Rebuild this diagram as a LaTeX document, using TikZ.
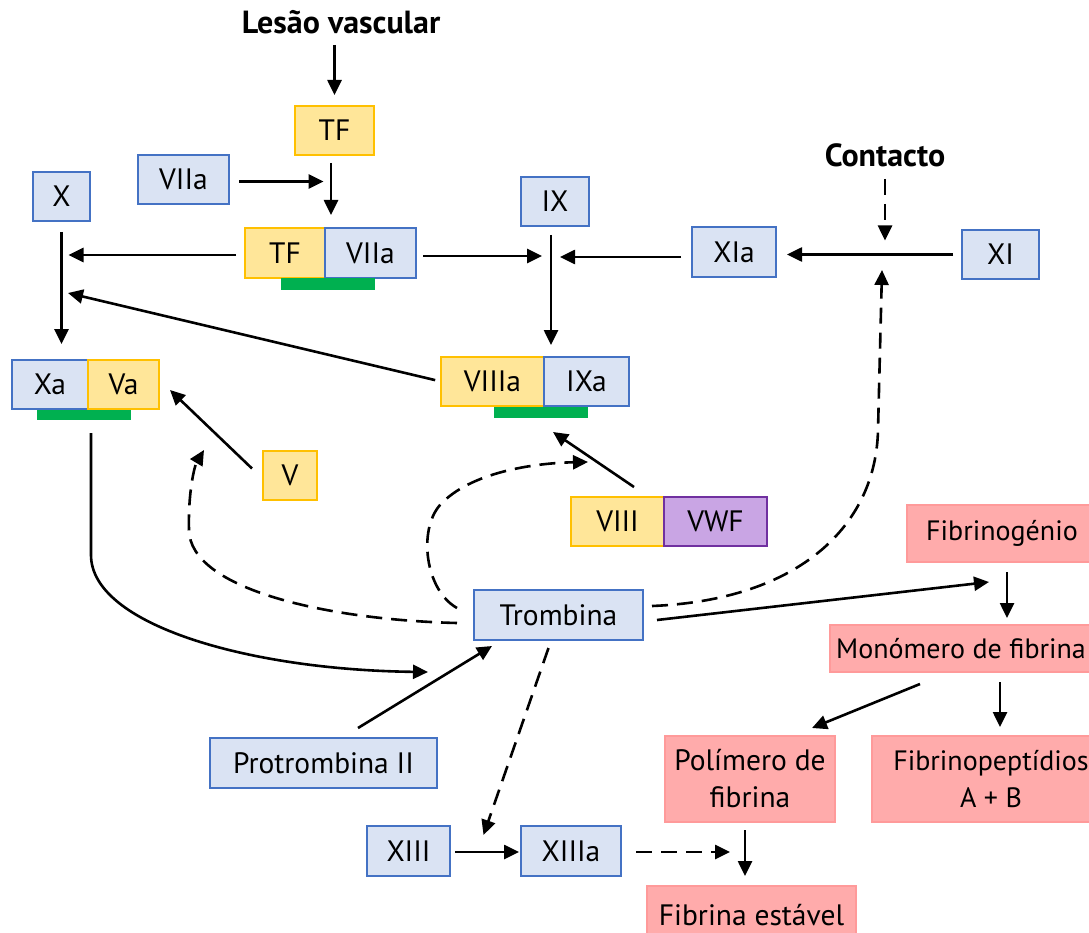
\documentclass[tikz,border=0pt]{standalone}
\usepackage{fontspec}
\setmainfont{PT Sans}
\usetikzlibrary{arrows.meta}
\definecolor{bfill}{HTML}{DAE3F3}
\definecolor{bdraw}{HTML}{4472C4}
\definecolor{yfill}{HTML}{FFE699}
\definecolor{ydraw}{HTML}{FFC000}
\definecolor{pfill}{HTML}{C9A5E4}
\definecolor{pdraw}{HTML}{7030A0}
\definecolor{rfill}{HTML}{FFABAB}
\definecolor{rdraw}{HTML}{FF9A9A}
\definecolor{gbar}{HTML}{00B050}
\begin{document}
\begin{tikzpicture}[x=1pt,y=-1pt,
  font=\fontsize{29.5}{37}\selectfont,
  bx/.style={draw, line width=1.5pt, inner sep=0pt, outer sep=0pt, align=center},
  bluebox/.style={bx, fill=bfill, draw=bdraw},
  yelbox/.style={bx, fill=yfill, draw=ydraw},
  purbox/.style={bx, fill=pfill, draw=pdraw},
  redbox/.style={bx, fill=rfill, draw=rdraw},
  narrow/.style={font=\fontsize{28}{37}\selectfont},
  ttl/.style={font=\fontsize{32}{36}\selectfont\bfseries, inner sep=0pt},
  arr/.style={line width=2.6pt, -{Triangle[length=15pt,width=14pt]}},
  dsh/.style={arr, dash pattern=on 16pt off 9pt}
]
\useasboundingbox (0,0) rectangle (1089,933);
\clip (0,0) rectangle (1089,933);

% titles
\node[ttl] (lesao) at (341,22) {Lesão vascular};
\node[ttl] (contacto) at (885,155) {Contacto};

% boxes
\node[yelbox, minimum width=79pt, minimum height=49pt] (tf) at (334.5,130.5) {TF};
\node[bluebox, minimum width=91pt, minimum height=49pt] (viia1) at (183.5,179.5) {VIIa};
\node[yelbox, minimum width=80pt, minimum height=50pt] (ctf) at (285,253) {TF};
\node[bluebox, minimum width=91pt, minimum height=50pt] (cviia) at (370.5,253) {VIIa};
\node[bluebox, minimum width=57pt, minimum height=49pt] (x) at (61.5,196.5) {X};
\node[bluebox, minimum width=68pt, minimum height=49pt] (ix) at (555,201.5) {IX};
\node[bluebox, minimum width=84pt, minimum height=50pt] (xia) at (734,252) {XIa};
\node[bluebox, minimum width=77pt, minimum height=49pt] (xi) at (1000.5,254.5) {XI};
\node[bluebox, minimum width=76pt, minimum height=49pt] (xa) at (50,384.5) {Xa};
\node[yelbox, minimum width=71pt, minimum height=49pt] (va) at (123.5,384.5) {Va};
\node[yelbox, minimum width=103pt, minimum height=49pt] (viiia) at (492.5,381.5) {VIIIa};
\node[bluebox, minimum width=85pt, minimum height=49pt] (ixa) at (586.5,381.5) {IXa};
\node[yelbox, minimum width=54pt, minimum height=49pt] (v) at (290,475.5) {V};
\node[yelbox, minimum width=93pt, minimum height=49pt] (viii) at (617.5,521.5) {VIII};
\node[purbox, minimum width=103pt, minimum height=49pt] (vwf) at (715.5,521.5) {VWF};
\node[bluebox, minimum width=169pt, minimum height=50pt] (trombina) at (558.5,615) {Trombina};
\node[bluebox, minimum width=227pt, minimum height=50pt] (protrombina) at (323.5,763) {Protrombina II};
\node[redbox, narrow, minimum width=190pt, minimum height=57pt] (fibrinogenio) at (1002,533.5) {Fibrinogénio};
\node[redbox, narrow, minimum width=262pt, minimum height=47pt] (monomero) at (961,648.5) {Monómero de fibrina};
\node[redbox, minimum width=170pt, minimum height=86pt] (polimero) at (750,779) {Polímero de\\fibrina};
\node[redbox, narrow, minimum width=238pt, minimum height=86pt] (fibrinopep) at (991,779) {Fibrinopeptídios\\A + B};
\node[bluebox, minimum width=83pt, minimum height=50pt] (xiii) at (408.5,851) {XIII};
\node[bluebox, minimum width=100pt, minimum height=50pt] (xiiia) at (571,851) {XIIIa};
\node[redbox, minimum width=209pt, minimum height=58pt] (fibrinaest) at (751.5,915) {Fibrina estável};

% green bars
\fill[gbar] (281,278.5) rectangle (375,290);
\fill[gbar] (37,409.5) rectangle (131,420);
\fill[gbar] (494,406.5) rectangle (588,418);

% junction coordinates
\coordinate (jx) at (68,293);
\coordinate (jc) at (882,270);

% connectors
\draw[arr, shorten <=11pt, shorten >=11pt] (lesao.south -| tf.north) -- (tf.north);
\draw[arr, shorten <=8pt, shorten >=13pt] ([xshift=-3.5pt]tf.south) -- ([xshift=-3.5pt]tf.south |- ctf.north);
\draw[arr, shorten <=10pt, shorten >=11pt] ([yshift=-2pt]viia1.east) -- ([yshift=-2pt]viia1.east -| tf.south);
\draw[arr, shorten <=9pt, shorten >=7pt] ([yshift=-2pt]ctf.west) -- ([yshift=-2pt]ctf.west -| x.south);
\draw[arr, shorten <=11pt, shorten >=16pt] (x.south) -- (x.south |- xa.north);
\draw[arr, shorten <=6pt] (viiia.west) -- (jx);
\draw[arr, shorten <=7pt, shorten >=9pt] ([yshift=-3pt]cviia.east) -- ([xshift=-4pt,yshift=-3pt]ix.south |- cviia.east);
\draw[arr, shorten <=9pt, shorten >=12pt] ([xshift=-4pt]ix.south) -- ([xshift=-4pt]ix.south |- ixa.north);
\draw[arr, shorten <=11pt, shorten >=9pt] ([yshift=-5pt]xia.west) -- ([xshift=-4pt,yshift=-5pt]ix.south |- xia.west);
\draw[arr, shorten <=9pt, shorten >=11pt] (xi.west) -- (xi.west -| xia.east);
\draw[dsh, shorten <=12pt, shorten >=14pt] (contacto.south) -- (contacto.south |- xi.west);
\draw[dsh] ([xshift=9pt,yshift=9pt]trombina.east) .. controls (800,600) and (876,525) .. (878,430) -- (jc);
\draw[arr] ([xshift=3pt,yshift=-24pt]xa.south east) -- (91,555) .. controls (91,625) and (250,670) .. (428,672);
\draw[arr] ([xshift=-11pt,yshift=7pt]v.west) -- ([shift={(11pt,19pt)}]va.south east);
\draw[arr] ([xshift=-30pt,yshift=10pt]viii.north east) -- ([shift={(9pt,-26pt)}]ixa.south west);
\draw[dsh] ([xshift=-17pt,yshift=7pt]trombina.west) .. controls (425,590) and (418,530) .. (440,505) .. controls (470,472) and (535,463) .. (588,462);
\draw[dsh] ([xshift=-17pt,yshift=-8pt]trombina.west) .. controls (330,620) and (190,590) .. (189,530) .. controls (188,490) and (195,465) .. (204,450);
\draw[arr] ([shift={(34.5pt,10pt)}]protrombina.north) -- ([shift={(18pt,-6pt)}]trombina.south west);
\draw[arr] ([shift={(14pt,-5pt)}]trombina.east) -- ([shift={(82pt,-20pt)}]fibrinogenio.south west);
\draw[arr, shorten <=10pt, shorten >=7pt] ([xshift=5pt]fibrinogenio.south) -- ([xshift=5pt]fibrinogenio.south |- monomero.north);
\draw[arr] ([shift={(-41pt,-12pt)}]monomero.south) -- ([shift={(62pt,8pt)}]polimero.north);
\draw[arr, shorten <=10pt, shorten >=9pt] ([xshift=39pt]monomero.south) -- ([xshift=39pt]monomero.south |- fibrinopep.north);
\draw[dsh] ([shift={(-10pt,-8pt)}]trombina.south) -- ([shift={(75pt,-9pt)}]xiii.north);
\draw[arr, shorten <=5pt, shorten >=2pt] ([yshift=-1pt]xiii.east) -- ([yshift=-1pt]xiiia.west);
\draw[dsh, shorten <=15pt] ([yshift=-1pt]xiiia.east) -- ++(109,0);
\draw[arr, shorten <=8pt, shorten >=10pt] ([xshift=-5pt]polimero.south) -- ([xshift=-5pt]polimero.south |- fibrinaest.north);
\end{tikzpicture}
\end{document}
